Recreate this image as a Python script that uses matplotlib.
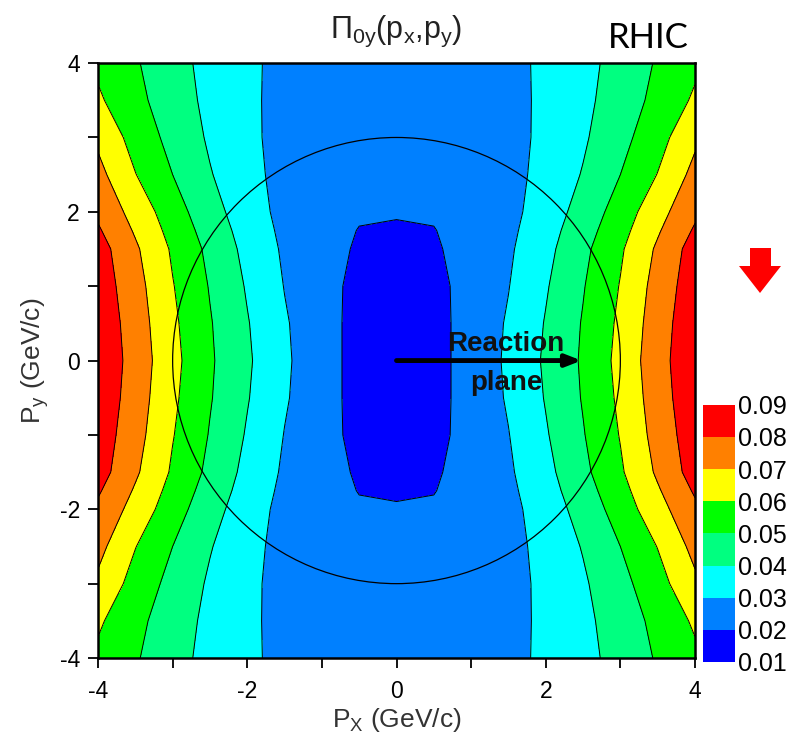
import matplotlib.pyplot as plt
import numpy as np
from matplotlib.patches import Circle, Polygon

plt.rcParams['font.family'] = ['Liberation Sans', 'DejaVu Sans']
plt.rcParams['mathtext.fontset'] = 'custom'
plt.rcParams['mathtext.rm'] = 'Liberation Sans'
plt.rcParams['mathtext.it'] = 'Liberation Sans:italic'
plt.rcParams['axes.unicode_minus'] = False

# field values, one quadrant (px >= 0, py >= 0)
px_nodes = [0.0, 0.5, 1.0, 1.5, 2.0, 2.5, 3.0, 3.5, 4.0]
py_nodes = [0.0, 0.5, 1.0, 1.5, 1.75, 2.0, 2.5, 3.0, 3.5, 4.0]
z_py00 = [0.0160, 0.0170, 0.0235, 0.0316, 0.0414, 0.0513, 0.0629, 0.0760, 0.0880]
z_py05 = [0.0160, 0.0170, 0.0235, 0.0310, 0.0406, 0.0507, 0.0619, 0.0751, 0.0873]
z_py10 = [0.0165, 0.0175, 0.0232, 0.0297, 0.0391, 0.0494, 0.0605, 0.0737, 0.0859]
z_py15 = [0.0178, 0.0188, 0.0238, 0.0286, 0.0372, 0.0476, 0.0587, 0.0715, 0.0844]
z_py175 = [0.0193, 0.0197, 0.0236, 0.0278, 0.0360, 0.0457, 0.0566, 0.0689, 0.0812]
z_py20 = [0.0205, 0.0210, 0.0235, 0.0270, 0.0348, 0.0437, 0.0545, 0.0663, 0.0780]
z_py25 = [0.0220, 0.0225, 0.0240, 0.0265, 0.0333, 0.0406, 0.0500, 0.0603, 0.0730]
z_py30 = [0.0230, 0.0235, 0.0245, 0.0265, 0.0323, 0.0387, 0.0469, 0.0562, 0.0680]
z_py35 = [0.0235, 0.0240, 0.0250, 0.0268, 0.0320, 0.0377, 0.0446, 0.0528, 0.0615]
z_py40 = [0.0240, 0.0245, 0.0255, 0.0275, 0.0317, 0.0371, 0.0434, 0.0510, 0.0580]

levels = [0.01, 0.02, 0.03, 0.04, 0.05, 0.06, 0.07, 0.08, 0.09]
level_colors = ['#0000ff', '#0080ff', '#00ffff', '#00ff80',
                '#00ff00', '#ffff00', '#ff8000', '#ff0000']
cbar_labels = ['0.01', '0.02', '0.03', '0.04', '0.05', '0.06', '0.07', '0.08', '0.09']

# mirror the quadrant to the full plane
zq = np.array([z_py00, z_py05, z_py10, z_py15, z_py175, z_py20,
               z_py25, z_py30, z_py35, z_py40])
px = np.array(px_nodes)
py = np.array(py_nodes)
xs = np.concatenate([-px[:0:-1], px])
ys = np.concatenate([-py[:0:-1], py])
z = np.hstack([zq[:, :0:-1], zq])
z = np.vstack([z[:0:-1], z])
X, Y = np.meshgrid(xs, ys)

fig = plt.figure(figsize=(7.93, 7.39), dpi=100)
ax = fig.add_axes([0.1236, 0.1096, 0.7528, 0.805])

cf = ax.contourf(X, Y, z, levels=levels, colors=level_colors)
ax.contour(X, Y, z, levels=levels[1:-1], colors='k', linewidths=0.7)

ax.add_patch(Circle((0, 0), 3, fill=False, ec='k', lw=0.9))

ax.annotate('', xy=(2.48, 0), xytext=(0, 0),
            arrowprops=dict(arrowstyle='-|>,head_length=0.9,head_width=0.35',
                            lw=3.5, color='k', shrinkA=0, shrinkB=0))
ax.text(1.47, 0.22, 'Reaction', ha='center', va='center',
        fontsize=20, fontweight='bold', color='#111111')
ax.text(1.47, -0.30, 'plane', ha='center', va='center',
        fontsize=20, fontweight='bold', color='#111111')

ax.set_xlim(-4, 4)
ax.set_ylim(-4, 4)
ax.set_xticks([-4, -2, 0, 2, 4])
ax.set_yticks([-4, -2, 0, 2, 4])
ax.set_xticks([-3, -1, 1, 3], minor=True)
ax.set_yticks([-3, -1, 1, 3], minor=True)
ax.tick_params(which='both', direction='out', length=7, width=1.3,
               top=False, right=False, labelsize=16.5, pad=6)
ax.tick_params(axis='x', pad=9)
for s in ax.spines.values():
    s.set_linewidth(1.8)

ax.set_xlabel(r'P$_\mathrm{X}$ (GeV/c)', fontsize=19, color='#333333', labelpad=2)
ax.set_ylabel(r'P$_\mathrm{y}$ (GeV/c)', fontsize=19, color='#333333', labelpad=6)

fig.text(0.5, 0.957, r'$\mathrm{\Pi_{0y}(p_x{,}p_y)}$', ha='center', va='center',
         fontsize=22, color='#222222')
fig.text(0.817, 0.949, 'RHIC', ha='center', va='center', fontsize=25,
         family=['Lato', 'DejaVu Sans'])

# colour scale
cax = fig.add_axes([0.8865, 0.1042, 0.0404, 0.348])
cb = fig.colorbar(cf, cax=cax, ticks=levels)
cb.outline.set_visible(False)
cb.set_ticklabels(cbar_labels)
cax.tick_params(length=0, labelsize=18, pad=2)

# red arrow marker on the right
pts = [(750, 248), (771, 248), (771, 266), (781, 266), (760, 293), (739, 266), (750, 266)]
fig.patches.append(Polygon([(x / 793, 1 - y / 739) for x, y in pts], closed=True,
                           fc='#ff0000', ec='none', transform=fig.transFigure))

fig.savefig('out.png', dpi=100)
